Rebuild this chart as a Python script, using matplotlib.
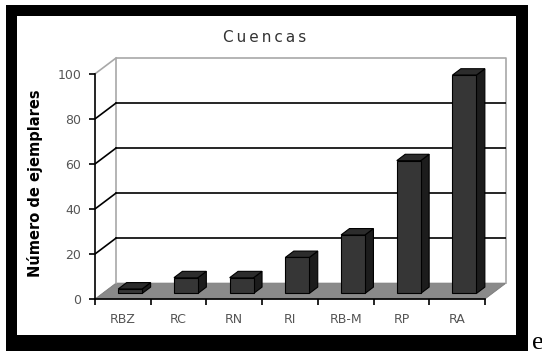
import matplotlib

matplotlib.use("Agg")
import matplotlib.pyplot as plt
from matplotlib.patches import Polygon, Rectangle

categories = ["RBZ", "RC", "RN", "RI", "RB-M", "RP", "RA"]
counts = [2, 7, 7, 16, 26, 59, 97]
y_ticks = [0, 20, 40, 60, 80, 100]
title = "Cuencas"
y_label = "Número de ejemplares"

W, H = 542, 351
DX = 0.378   # oblique depth offset, category units
DY = 7.05    # oblique depth offset, value units
D0 = 0.35    # depth where the bar front sits
BD = 0.40    # bar depth
BW = 0.43    # bar width

fig = plt.figure(figsize=(W / 100, H / 100), dpi=100)
fig.patch.set_facecolor("white")


def px_rect(x0, top, x1, bottom, color, z):
    fig.add_artist(Rectangle((x0 / W, 1 - bottom / H), (x1 - x0) / W, (bottom - top) / H,
                             transform=fig.transFigure, facecolor=color, edgecolor="none", zorder=z))


# black picture frame
px_rect(6, 5, 528, 352, "black", -10)
px_rect(17, 16, 516, 335, "white", -9)

n = len(categories)
ax = fig.add_axes([95 / W, (H - 299) / H, (506 - 95) / W, (299 - 58) / H])
ax.patch.set_visible(False)
ax.set_xlim(0, n + DX)
ax.set_ylim(0, 100 + DY)

# floor
ax.add_patch(Polygon([(0, 0), (n, 0), (n + DX, DY), (DX, DY)], closed=True,
                     facecolor="#8a8a8a", edgecolor="#7a7a7a", lw=0.6, zorder=1, clip_on=False))

# back wall outline and grid
wall = "#a8a8a8"
ax.plot([DX, DX, n + DX, n + DX], [DY, 100 + DY, 100 + DY, DY], color=wall, lw=1.2, zorder=1, clip_on=False)
ax.plot([0, DX], [100, 100 + DY], color=wall, lw=1.2, zorder=1, clip_on=False)
for v in y_ticks[1:-1]:
    ax.plot([DX, n + DX], [v + DY, v + DY], color="black", lw=1.2, zorder=2)
    ax.plot([0, DX], [v, v + DY], color="black", lw=1.2, zorder=2)

# bars
for i, v in enumerate(counts):
    x0 = i + 0.5 - BW / 2 + D0 * DX
    y0 = D0 * DY
    ox, oy = BD * DX, BD * DY
    side = [(x0 + BW, y0), (x0 + BW + ox, y0 + oy), (x0 + BW + ox, y0 + v + oy), (x0 + BW, y0 + v)]
    top = [(x0, y0 + v), (x0 + BW, y0 + v), (x0 + BW + ox, y0 + v + oy), (x0 + ox, y0 + v + oy)]
    ax.add_patch(Polygon(side, closed=True, facecolor="#1c1c1c", edgecolor="black", lw=0.8, zorder=4))
    ax.add_patch(Polygon(top, closed=True, facecolor="#2c2c2c", edgecolor="black", lw=0.8, zorder=4))
    ax.add_patch(Rectangle((x0, y0), BW, v, facecolor="#363636", edgecolor="black", lw=0.8, zorder=5))

# axes
for s in ("top", "right"):
    ax.spines[s].set_visible(False)
ax.spines["left"].set_bounds(0, 100)
ax.spines["bottom"].set_bounds(0, n)
for s in ("left", "bottom"):
    ax.spines[s].set_linewidth(1.2)
    ax.spines[s].set_zorder(6)

ax.set_yticks(y_ticks)
ax.set_yticklabels([str(t) for t in y_ticks])
ax.tick_params(axis="y", length=4, width=1.2, pad=6, labelsize=9, labelcolor="#555555")

ax.set_xticks(range(n + 1))
ax.set_xticklabels([])
ax.set_xticks([i + 0.5 for i in range(n)], minor=True)
ax.set_xticklabels(categories, minor=True)
ax.tick_params(axis="x", which="major", length=4, width=1.2, direction="out")
ax.tick_params(axis="x", which="minor", length=0, pad=10, labelsize=9, labelcolor="#555555")

fig.text(265 / W, 1 - 37 / H, "\u2009".join(title), ha="center", va="center",
         fontsize=11, color="#333333", family="DejaVu Sans")
fig.text(35 / W, 1 - 183 / H, y_label, rotation=90, ha="center", va="center",
         fontsize=10.5, fontweight="heavy", color="black")
fig.text(532 / W, 1 - 349 / H, "e", ha="left", va="baseline", fontsize=19,
         family="Liberation Serif", color="black")

fig.savefig("out.png", dpi=100)
plt.close(fig)
